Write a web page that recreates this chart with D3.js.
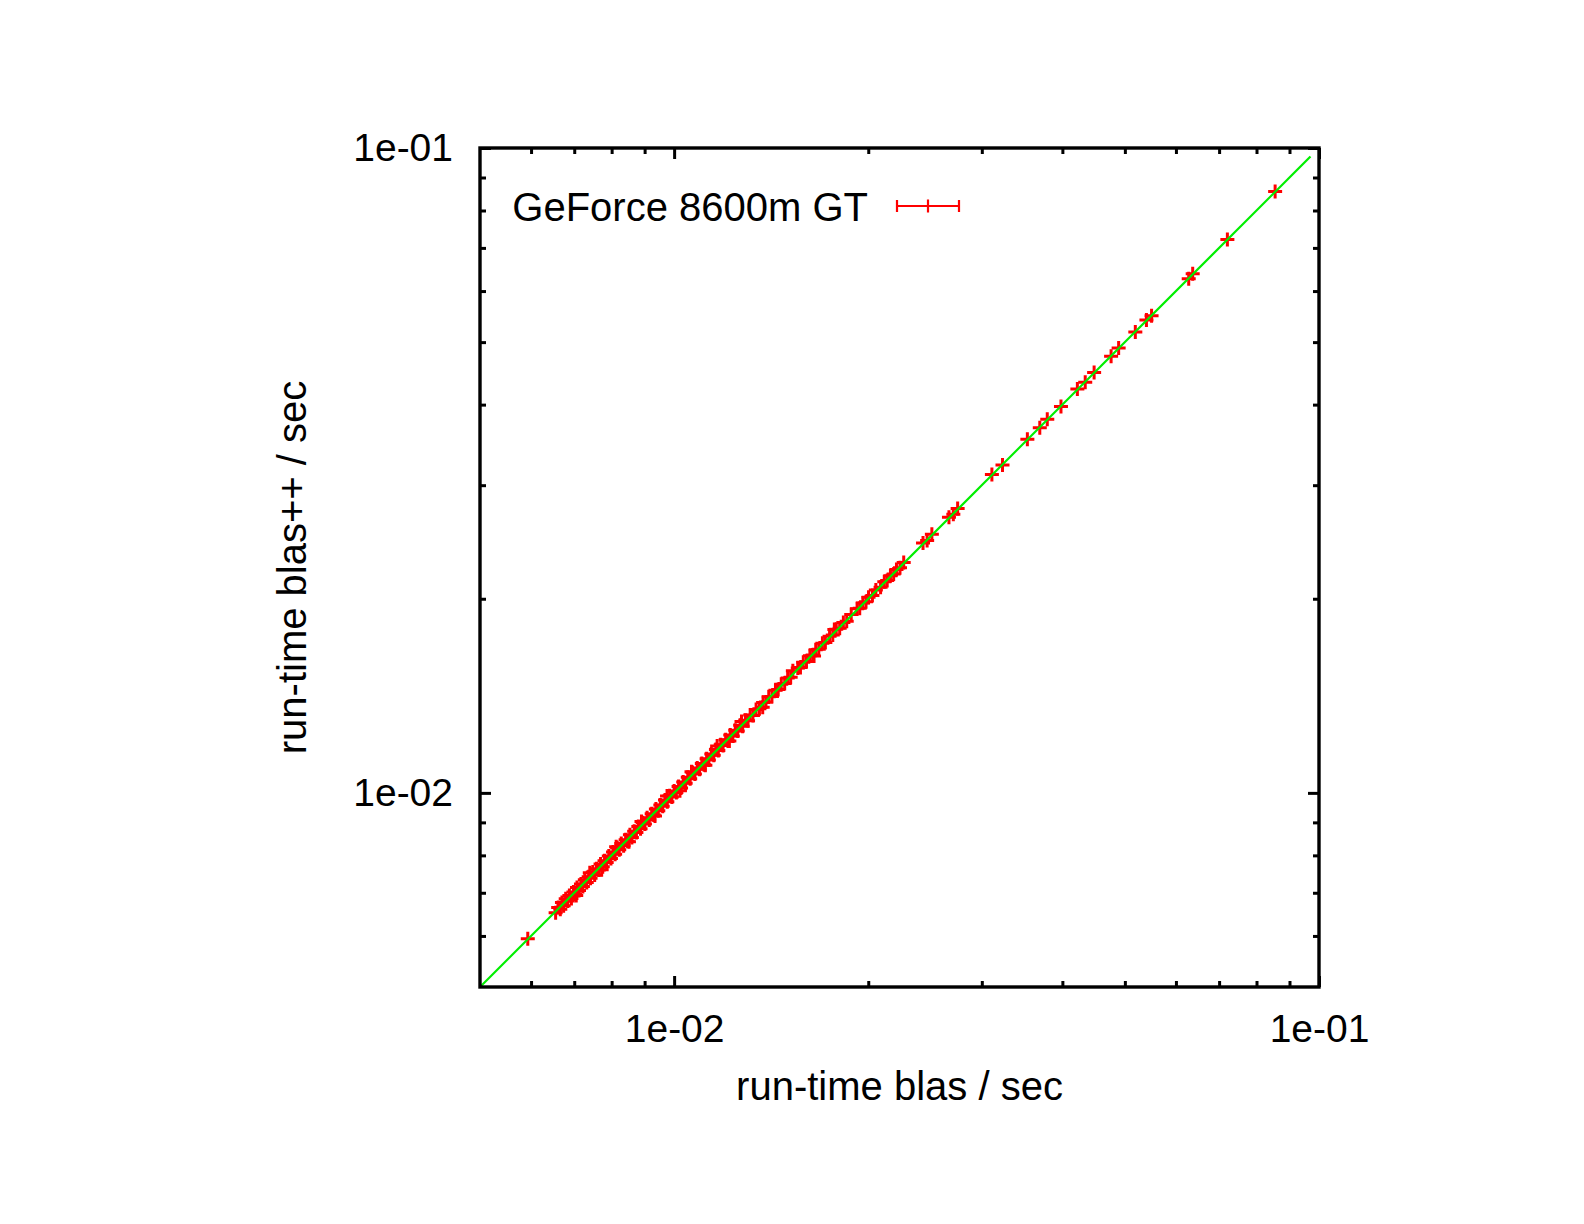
<!DOCTYPE html>
<html>
<head>
<meta charset="utf-8">
<script src="https://cdn.jsdelivr.net/npm/d3@7"></script>
<style>
  html, body { margin: 0; padding: 0; background: #fff; }
  svg { display: block; }
  text { font-family: "Liberation Sans", Arial, Helvetica, sans-serif; fill: #000; }
</style>
</head>
<body>
<svg id="chart" width="1584" height="1224"></svg>
<script>
// ---- data ----
const seriesName = "GeForce 8600m GT";
const xTitle = "run-time blas / sec";
const yTitle = "run-time blas++ / sec";
const axisDomain = [0.005, 0.1];
const majorTicks = [0.01, 0.1];
const majorTickLabels = ["1e-02", "1e-01"];
const minorTicks = [0.006, 0.007, 0.008, 0.009, 0.02, 0.03, 0.04, 0.05, 0.06, 0.07, 0.08, 0.09];
const diagonalEnds = [0.005, 0.097];

const blasTimes = [
  0.00593, 0.00655, 0.00661, 0.00666, 0.00670, 0.00674, 0.00679, 0.00684, 0.00688, 0.00693,
  0.00698, 0.00702, 0.00707, 0.00712, 0.00717, 0.00722, 0.00727, 0.00732, 0.00737, 0.00742,
  0.00748, 0.00753, 0.00758, 0.00764, 0.00769, 0.00775, 0.00780, 0.00786, 0.00792, 0.00798,
  0.00804, 0.00810, 0.00816, 0.00822, 0.00828, 0.00835, 0.00841, 0.00847, 0.00854, 0.00860,
  0.00867, 0.00874, 0.00880, 0.00887, 0.00894, 0.00901, 0.00908, 0.00915, 0.00923, 0.00930,
  0.00937, 0.00945, 0.00952, 0.00960, 0.00968, 0.00976, 0.00984, 0.00992, 0.01000, 0.01008,
  0.01016, 0.01025, 0.01033, 0.01042, 0.01050, 0.01059, 0.01068, 0.01077, 0.01086, 0.01095,
  0.01104, 0.01113, 0.01123, 0.01132, 0.01142, 0.01152, 0.01161, 0.01171, 0.01181, 0.01191,
  0.01202, 0.01212, 0.01222, 0.01233, 0.01244, 0.01255, 0.01266, 0.01277, 0.01290, 0.01302,
  0.01312, 0.01325, 0.01340, 0.01356, 0.01374, 0.01388, 0.01402, 0.01418, 0.01436, 0.01450,
  0.01466, 0.01484, 0.01500, 0.01516, 0.01555, 0.01570, 0.01586, 0.01604, 0.01624, 0.01640,
  0.01658, 0.01676, 0.01698, 0.01716, 0.01742, 0.01762, 0.01784, 0.01806, 0.01830, 0.01852,
  0.01882, 0.01922, 0.01940, 0.01962, 0.01984, 0.02002, 0.02030, 0.02055, 0.02090, 0.02118,
  0.02140, 0.02165, 0.02190, 0.02212, 0.02240, 0.02270, 0.02432, 0.02468, 0.02510, 0.02668,
  0.02710, 0.02752, 0.03110, 0.03230, 0.03530, 0.03690, 0.03790, 0.03980, 0.04220, 0.04340,
  0.04480, 0.04760, 0.04890, 0.05190, 0.05400, 0.05500, 0.06280, 0.06370, 0.07210, 0.08550,
  0.00705, 0.00740, 0.00772, 0.00813, 0.00851, 0.00890, 0.00934, 0.00975, 0.01021, 0.01064,
  0.01118, 0.01166, 0.01218, 0.01272, 0.01372, 0.01528, 0.01648, 0.01772
];
const blasppTimes = [
  0.00594, 0.00652, 0.00664, 0.00660, 0.00676, 0.00668, 0.00685, 0.00680, 0.00693, 0.00686,
  0.00702, 0.00697, 0.00713, 0.00706, 0.00722, 0.00716, 0.00733, 0.00726, 0.00741, 0.00737,
  0.00754, 0.00746, 0.00763, 0.00759, 0.00776, 0.00768, 0.00785, 0.00780, 0.00798, 0.00791,
  0.00810, 0.00803, 0.00822, 0.00816, 0.00835, 0.00828, 0.00846, 0.00841, 0.00861, 0.00853,
  0.00872, 0.00868, 0.00887, 0.00880, 0.00899, 0.00895, 0.00915, 0.00908, 0.00928, 0.00924,
  0.00944, 0.00938, 0.00958, 0.00953, 0.00975, 0.00969, 0.00990, 0.00985, 0.01007, 0.01001,
  0.01023, 0.01018, 0.01040, 0.01035, 0.01057, 0.01052, 0.01075, 0.01070, 0.01093, 0.01088,
  0.01111, 0.01106, 0.01130, 0.01125, 0.01149, 0.01144, 0.01168, 0.01163, 0.01188, 0.01184,
  0.01209, 0.01204, 0.01229, 0.01225, 0.01251, 0.01247, 0.01273, 0.01269, 0.01296, 0.01294,
  0.01320, 0.01318, 0.01347, 0.01350, 0.01381, 0.01383, 0.01410, 0.01411, 0.01443, 0.01446,
  0.01474, 0.01478, 0.01507, 0.01511, 0.01562, 0.01564, 0.01594, 0.01598, 0.01632, 0.01636,
  0.01667, 0.01670, 0.01706, 0.01710, 0.01750, 0.01757, 0.01793, 0.01800, 0.01838, 0.01846,
  0.01890, 0.01930, 0.01934, 0.01970, 0.01978, 0.02010, 0.02024, 0.02063, 0.02083, 0.02126,
  0.02135, 0.02172, 0.02184, 0.02220, 0.02234, 0.02276, 0.02440, 0.02462, 0.02518, 0.02676,
  0.02704, 0.02760, 0.03116, 0.03224, 0.03536, 0.03684, 0.03798, 0.03974, 0.04228, 0.04334,
  0.04488, 0.04752, 0.04898, 0.05184, 0.05410, 0.05492, 0.06270, 0.06382, 0.07216, 0.08560,
  0.00693, 0.00752, 0.00760, 0.00825, 0.00840, 0.00903, 0.00921, 0.00989, 0.01008, 0.01078,
  0.01104, 0.01182, 0.01203, 0.01290, 0.01358, 0.01546, 0.01630, 0.01792
];

// ---- layout ----
const L = 480, R = 1319, T = 148, B = 987;
const svg = d3.select("#chart");
const x = d3.scaleLog().domain(axisDomain).range([L, R]);
const y = d3.scaleLog().domain(axisDomain).range([B, T]);

const points = blasTimes.map((v, i) => ({ x: v, y: blasppTimes[i] }));

const MAJ = 11, MIN = 6;
const tickFont = "39px";

function styleAxis(g, width) {
  g.select(".domain").remove();
  g.selectAll(".tick line").attr("stroke", "#000").attr("stroke-width", width);
}

// minor ticks (all four sides, inward)
svg.append("g").attr("transform", `translate(0,${B})`)
  .call(d3.axisBottom(x).tickValues(minorTicks).tickSize(-MIN).tickFormat(""))
  .call(g => styleAxis(g, 3));
svg.append("g").attr("transform", `translate(0,${T})`)
  .call(d3.axisTop(x).tickValues(minorTicks).tickSize(-MIN).tickFormat(""))
  .call(g => styleAxis(g, 3));
svg.append("g").attr("transform", `translate(${L},0)`)
  .call(d3.axisLeft(y).tickValues(minorTicks).tickSize(-MIN).tickFormat(""))
  .call(g => styleAxis(g, 3));
svg.append("g").attr("transform", `translate(${R},0)`)
  .call(d3.axisRight(y).tickValues(minorTicks).tickSize(-MIN).tickFormat(""))
  .call(g => styleAxis(g, 3));

// major ticks with labels
const fmt = d => majorTickLabels[majorTicks.indexOf(d)];
svg.append("g").attr("transform", `translate(0,${B})`)
  .call(d3.axisBottom(x).tickValues(majorTicks).tickSize(-MAJ).tickPadding(27).tickFormat(fmt))
  .call(g => { styleAxis(g, 3); g.selectAll("text").style("font-size", tickFont).attr("font-family", null); });
svg.append("g").attr("transform", `translate(0,${T})`)
  .call(d3.axisTop(x).tickValues(majorTicks).tickSize(-MAJ).tickFormat(""))
  .call(g => styleAxis(g, 3));
svg.append("g").attr("transform", `translate(${L},0)`)
  .call(d3.axisLeft(y).tickValues(majorTicks).tickSize(-MAJ).tickPadding(27).tickFormat(fmt))
  .call(g => { styleAxis(g, 3); g.selectAll("text").style("font-size", tickFont).attr("font-family", null); });
svg.append("g").attr("transform", `translate(${R},0)`)
  .call(d3.axisRight(y).tickValues(majorTicks).tickSize(-MAJ).tickFormat(""))
  .call(g => styleAxis(g, 3));

// data points: red plus markers
const plusPath = "M-7,0H7M0,-7V7";
svg.append("g").selectAll("path.pt").data(points).join("path")
  .attr("class", "pt")
  .attr("d", plusPath)
  .attr("transform", d => `translate(${x(d.x)},${y(d.y)})`)
  .attr("stroke", "#ff0000").attr("stroke-width", 3).attr("fill", "none");

// diagonal reference line y = x
svg.append("line")
  .attr("x1", x(diagonalEnds[0])).attr("y1", y(diagonalEnds[0]))
  .attr("x2", x(diagonalEnds[1])).attr("y2", y(diagonalEnds[1]))
  .attr("stroke", "#00ee00").attr("stroke-width", 2.2);

// border
svg.append("rect").attr("x", L).attr("y", T).attr("width", R - L).attr("height", B - T)
  .attr("fill", "none").attr("stroke", "#000").attr("stroke-width", 3.4);

// axis titles
svg.append("text").attr("x", (L + R) / 2).attr("y", 1100)
  .attr("text-anchor", "middle").style("font-size", "40px").text(xTitle);
svg.append("text").attr("transform", `translate(306,${(T + B) / 2}) rotate(-90)`)
  .attr("text-anchor", "middle").style("font-size", "40px").text(yTitle);

// legend
const lg = svg.append("g");
lg.append("text").attr("x", 868).attr("y", 221).attr("text-anchor", "end")
  .style("font-size", "40px").text(seriesName);
const ly = 206, lx1 = 897, lx2 = 959, lxm = 928;
lg.append("path")
  .attr("d", `M${lx1},${ly}H${lx2}M${lx1},${ly - 6}V${ly + 6}M${lx2},${ly - 6}V${ly + 6}M${lxm},${ly - 6.5}V${ly + 6.5}`)
  .attr("stroke", "#ff0000").attr("stroke-width", 2.2).attr("fill", "none");
</script>
</body>
</html>
